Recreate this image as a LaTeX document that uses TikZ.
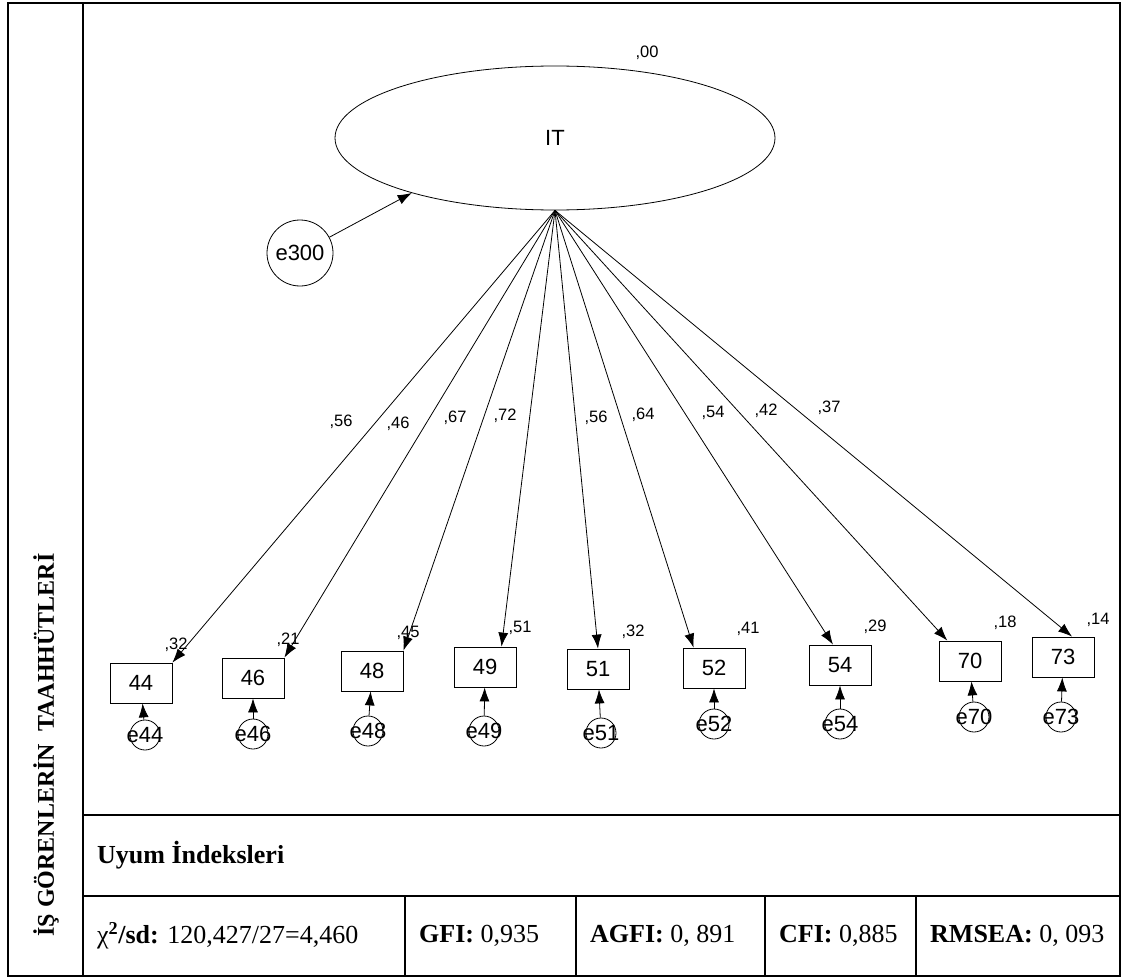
\documentclass[tikz,border=0pt]{standalone}
\usepackage{fontspec}
\setmainfont{Liberation Serif}
\newfontfamily\diagfont{Liberation Sans}
\usetikzlibrary{shapes.geometric,arrows.meta}
\tikzset{item/.style={draw, line width=0.8pt, minimum width=62pt, minimum height=40pt, inner sep=0pt, font=\diagfont\fontsize{22}{24}\selectfont},
% items are the observed variables, err the small error circles below them
err/.style={draw, circle, line width=0.8pt, minimum size=30pt, inner sep=0pt, font=\diagfont\fontsize{22}{24}\selectfont},
latent/.style={draw, ellipse, line width=0.8pt, minimum width=440pt, minimum height=144pt, inner sep=0pt, font=\diagfont\fontsize{22}{24}\selectfont},
lbl/.style={inner sep=0pt, font=\diagfont\fontsize{16.5}{18}\selectfont},
cell/.style={anchor=west, inner sep=0pt, font=\fontsize{26}{30}\selectfont},
frame/.style={line width=2.2pt},
line/.style={-{Latex[length=14pt,width=10pt]}, line width=0.8pt}   % all paths of the model
}
\begin{document}
\begin{tikzpicture}[x=1pt,y=-1pt]
    \useasboundingbox (0,0) rectangle (1127,979);
    % frame and fit table
    \draw[frame] (8,3) rectangle (1120,976);
    \draw[frame] (83,3) -- (83,976) (83,815) -- (1120,815) (83,896) -- (1120,896);
    \draw[frame] (405,896) -- (405,976) (576,896) -- (576,976) (765,896) -- (765,976) (916,896) -- (916,976);
    \node[rotate=90, inner sep=0pt, font=\bfseries\fontsize{24}{28}\selectfont] (title) at (46,745) {İŞ GÖRENLERİN\ \ TAAHHÜTLERİ};
    \node[cell] (uyum) at (97,855) {\textbf{Uyum İndeksleri}};
    \node[cell] (chi) at (97,936) {χ\textsuperscript{\textbf{2}}\textbf{/sd:} 120,427/27=4,460};
    \node[cell] (gfi) at (419,936) {\textbf{GFI:} 0,935};
    \node[cell] (agfi) at (590,936) {\textbf{AGFI:} 0, 891};
    \node[cell] (cfi) at (779,936) {\textbf{CFI:} 0,885};
    \node[cell] (rmsea) at (930,936) {\textbf{RMSEA:} 0, 093};
    % latent factor
    \node[latent] (IT) at (555,138) {IT};
    \node[lbl] (r00) at (647,53) {,00};
    \node[draw, circle, line width=0.8pt, minimum size=66pt, inner sep=0pt, font=\diagfont\fontsize{22}{24}\selectfont] (e300) at (300,253) {e300};
    \draw[line] (e300) -- (IT.201);
    % observed items
    \node[item] (b44) at (141,683) {44};
    \node[item] (b46) at (253,678) {46};
    \node[item] (b48) at (372,671) {48};
    \node[item] (b49) at (485,667) {49};
    \node[item] (b51) at (598,669) {51};
    \node[item] (b52) at (714,668) {52};
    \node[item] (b54) at (840,665) {54};
    \node[item] (b70) at (970,661) {70};
    \node[item] (b73) at (1063,657) {73};
    % error terms
    \node[err] (e44) at (145,735) {\makebox[0pt]{e44}};
    \node[err] (e46) at (253,734) {\makebox[0pt]{e46}};
    \node[err] (e48) at (368,731) {\makebox[0pt]{e48}};
    \node[err] (e49) at (484,731) {\makebox[0pt]{e49}};
    \node[err] (e51) at (601,733) {\makebox[0pt]{e51}};
    \node[err] (e52) at (714,724) {\makebox[0pt]{e52}};
    \node[err] (e54) at (840,724) {\makebox[0pt]{e54}};
    \node[err] (e70) at (974,717) {\makebox[0pt]{e70}};
    \node[err] (e73) at (1061,717) {\makebox[0pt]{e73}};
    \draw[line] (e44) -- (b44);
    \draw[line] (e46) -- (b46);
    \draw[line] (e48) -- (b48);
    \draw[line] (e49) -- (b49);
    \draw[line] (e51) -- (b51);
    \draw[line] (e52) -- (b52);
    \draw[line] (e54) -- (b54);
    \draw[line] (e70) -- (b70);
    \draw[line] (e73) -- (b73);
    % loadings
    \draw[line] (IT.south) -- (b44.north east);
    \draw[line] (IT.south) -- (b46.north east);
    \draw[line] (IT.south) -- (b48.north east);
    \draw[line] (IT.south) -- (b49.51);
    \draw[line] (IT.south) -- (b51.north);
    \draw[line] (IT.south) -- (b52.135);
    \draw[line] (IT.south) -- (b54.109);
    \draw[line] (IT.south) -- (b70.138);
    \draw[line] (IT.south) -- (b73.66);
    \node[lbl] (l44) at (341,422) {,56};
    \node[lbl] (l46) at (398,424) {,46};
    \node[lbl] (l48) at (455,418) {,67};
    \node[lbl] (l49) at (505,416) {,72};
    \node[lbl] (l51) at (596,418) {,56};
    \node[lbl] (l52) at (643,415) {,64};
    \node[lbl] (l54) at (713,413) {,54};
    \node[lbl] (l70) at (766,411) {,42};
    \node[lbl] (l73) at (829,408) {,37};
    % squared multiple correlations
    \node[lbl] (r44) at (176,645) {,32};
    \node[lbl] (r46) at (288,640) {,21};
    \node[lbl] (r48) at (408,633) {,45};
    \node[lbl] (r49) at (520,628) {,51};
    \node[lbl] (r51) at (633,632) {,32};
    \node[lbl] (r52) at (748,629) {,41};
    \node[lbl] (r54) at (875,627) {,29};
    \node[lbl] (r70) at (1005,623) {,18};
    \node[lbl] (r73) at (1098,620) {,14};
\end{tikzpicture}
\end{document}
